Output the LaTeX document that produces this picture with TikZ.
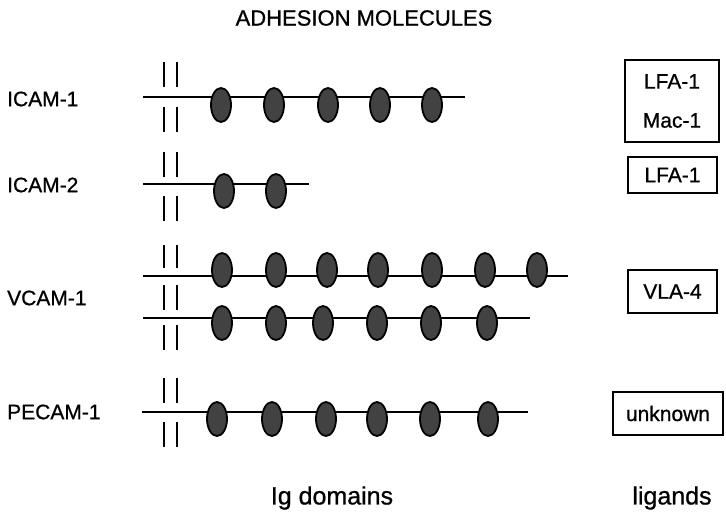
\documentclass[tikz,border=0pt]{standalone}
\usepackage{fontspec}
\setmainfont{Liberation Sans}[FakeBold=0.8]
\usetikzlibrary{shapes.geometric}
\begin{document}
\begin{tikzpicture}[x=1pt,y=-1pt,
  lbl/.style={anchor=west,inner sep=0pt,font=\fontsize{21}{24}\selectfont},
  dom/.style={ellipse,draw=black,line width=1.8pt,fill=black!74,minimum width=20pt,minimum height=34pt,inner sep=0pt},
  chain/.style={line width=1.8pt},
  bar/.style={line width=2.2pt},
  lig/.style={draw,line width=1.8pt,inner sep=0pt,font=\fontsize{21}{39}\selectfont,align=center}]
\useasboundingbox (0,0) rectangle (726,516);
% title and footers
\node[font=\fontsize{22}{26}\selectfont] (title) at (364,18) {ADHESION MOLECULES};
\node[font=\fontsize{25}{30}\selectfont] (ig) at (332,498) {Ig domains};
\node[font=\fontsize{25}{30}\selectfont] (lg) at (672,498) {ligands};
% labels
\node[lbl] (l1) at (7,99) {ICAM-1};
\node[lbl] (l2) at (7,185) {ICAM-2};
\node[lbl] (l3) at (7,298) {VCAM-1};
\node[lbl] (l4) at (7,412) {PECAM-1};
% ligand boxes
\node[lig,minimum width=94pt,minimum height=82pt] (b1) at (672,101) {LFA-1\\Mac-1};
\node[lig,minimum width=89pt,minimum height=36pt] (b2) at (672.5,175) {LFA-1};
\node[lig,minimum width=89pt,minimum height=43pt] (b3) at (672.5,291.5) {VLA-4};
\node[lig,minimum width=110pt,minimum height=43pt] (b4) at (668,413.5) {unknown};
% chain coordinates
\coordinate (s1) at (143,97);  \coordinate (e1) at (465,97);
\coordinate (s2) at (143,184); \coordinate (e2) at (309,184);
\coordinate (s3) at (143,276); \coordinate (e3) at (568,276);
\coordinate (s4) at (143,318); \coordinate (e4) at (530,318);
\coordinate (s5) at (142,412); \coordinate (e5) at (528,412);
\draw[chain] (s1) -- (e1);
\draw[chain] (s2) -- (e2);
\draw[chain] (s3) -- (e3);
\draw[chain] (s4) -- (e4);
\draw[chain] (s5) -- (e5);
% membrane bars
\foreach \x in {164,177}{
  \draw[bar] (\x,62) -- (\x,87);
  \draw[bar] (\x,107) -- (\x,132);
  \draw[bar] (\x,152) -- (\x,177);
  \draw[bar] (\x,196) -- (\x,221);
  \draw[bar] (\x,245) -- (\x,268);
  \draw[bar] (\x,285) -- (\x,310);
  \draw[bar] (\x,325) -- (\x,350);
  \draw[bar] (\x,378) -- (\x,403);
  \draw[bar] (\x,422) -- (\x,447);
}
% Ig domains
\foreach \x [count=\i] in {221,274,328,380,432}
  \node[dom] (a\i) at (\x,105) {};
\foreach \x [count=\i] in {224,276}
  \node[dom] (b\i) at (\x,191) {};
\foreach \x [count=\i] in {222,276,327,378,432,485,537}
  \node[dom] (c\i) at (\x,270) {};
\foreach \x [count=\i] in {222,276,323,377,431,487}
  \node[dom] (d\i) at (\x,323) {};
\foreach \x [count=\i] in {217,272,326,377,430,488}
  \node[dom] (e\i) at (\x,419) {};
\end{tikzpicture}
\end{document}
